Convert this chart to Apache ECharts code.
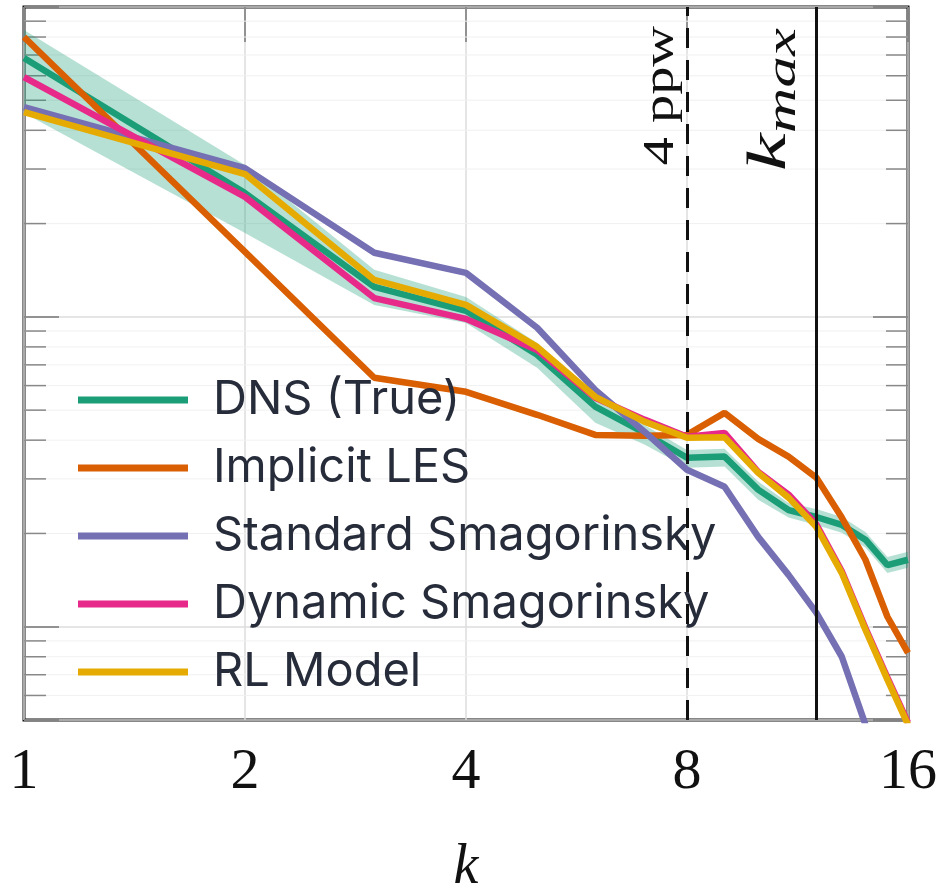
<!DOCTYPE html>
<html><head><meta charset="utf-8">
<script src="https://cdn.jsdelivr.net/npm/echarts@6/dist/echarts.min.js"></script>
<style>html,body{margin:0;padding:0;background:#fff}#c{width:946px;height:888px}</style>
</head><body><div id="c"></div>
<script>
// ---- data ----
const kValues = [1,2,3,4,5,6,7,8,9,10,11,12,13,14,15,16];
const xTickLabels = ['1','2','4','8','16'];
const dnsTrue  = [0.685,0.251,0.125,0.1046,0.0754,0.0513,0.0422,0.0351,0.0354,0.0277,0.0238,0.0226,0.0213,0.0191,0.0158,0.01645];
const dnsUpper = [0.843,0.309,0.142,0.116,0.0824,0.0561,0.0448,0.0372,0.0375,0.0294,0.0251,0.0240,0.0226,0.0202,0.0168,0.01746];
const dnsLower = [0.455,0.1866,0.1093,0.0956,0.0685,0.0455,0.0387,0.0326,0.0329,0.0257,0.0225,0.0213,0.0201,0.0180,0.0149,0.0155];
const implicitLES  = [0.80,0.162,0.0636,0.0573,0.0483,0.0416,0.0413,0.0416,0.049,0.0404,0.0354,0.0303,0.0225,0.01645,0.01077,0.00824];
const standardSmag = [0.475,0.302,0.161,0.1387,0.0922,0.0581,0.0426,0.0321,0.0283,0.0195,0.0147,0.0111,0.0080,0.00483,null,null];
const dynamicSmag  = [0.594,0.244,0.115,0.0985,0.0782,0.0548,0.0466,0.0410,0.0422,0.0316,0.0267,0.0214,0.0151,0.0099,0.00685,0.0049];
const rlModel      = [0.458,0.289,0.1316,0.1093,0.080,0.0552,0.0459,0.0407,0.0409,0.0314,0.0261,0.0210,0.0149,0.00978,0.00675,0.00483];
const seriesNames  = ['DNS (True)','Implicit LES','Standard Smagorinsky','Dynamic Smagorinsky','RL Model'];
const seriesColors = ['#1b9e77','#d95f02','#7570b3','#e7298a','#e6ab02'];
const ppwK = 8;
const kmaxK = 12;
const yMin = 0.005, yMax = 1;

// ---- chart ----
const chart = echarts.init(document.getElementById('c'));
const pair = arr => kValues.map((k, i) => [k, arr[i]]);

const minorVals = [];
for (let d = -3; d <= 0; d++) for (let m = 2; m <= 9; m++) {
  const v = m * Math.pow(10, d);
  if (v > yMin * 1.0001 && v < yMax * 0.9999) minorVals.push(v);
}

const seriesData = [dnsTrue, implicitLES, standardSmag, dynamicSmag, rlModel];

const series = [
  { // minor ticks + faint minor gridlines
    type: 'custom', silent: true, z: 1,
    data: minorVals.map(v => [1, v]),
    renderItem: (params, api) => {
      const v = api.value(1);
      const pL = api.coord([1, v]), pR = api.coord([16, v]);
      return { type: 'group', children: [
        { type: 'line', shape: { x1: pL[0], y1: pL[1], x2: pR[0], y2: pR[1] }, style: { stroke: '#f1f1f1', lineWidth: 1 } },
        { type: 'line', shape: { x1: pL[0], y1: pL[1], x2: pL[0] + 22, y2: pL[1] }, style: { stroke: '#888', lineWidth: 1.5 } },
        { type: 'line', shape: { x1: pR[0] - 22, y1: pR[1], x2: pR[0], y2: pR[1] }, style: { stroke: '#888', lineWidth: 1.5 } }
      ]};
    }
  },
  { // DNS uncertainty band
    type: 'custom', silent: true, z: 2,
    data: [[1, dnsTrue[0]]],
    renderItem: (params, api) => {
      const up = kValues.map((k, i) => api.coord([k, dnsUpper[i]]));
      const lo = kValues.map((k, i) => api.coord([k, dnsLower[i]])).reverse();
      return { type: 'polygon', shape: { points: up.concat(lo) }, style: { fill: 'rgba(27,158,119,0.32)' } };
    }
  }
];
seriesNames.forEach((name, i) => {
  series.push({
    name, type: 'line', data: pair(seriesData[i]), symbol: 'none', z: 3,
    color: seriesColors[i], lineStyle: { width: 6.5, color: seriesColors[i] },
    clip: true, connectNulls: false
  });
});
series.push({
  type: 'line', data: [], z: 5, silent: true,
  markLine: {
    symbol: 'none', silent: true, label: { show: false }, animation: false,
    data: [
      { xAxis: ppwK, lineStyle: { type: [20, 12], color: '#111', width: 3 } },
      { xAxis: kmaxK, lineStyle: { type: 'solid', color: '#111', width: 3 } }
    ]
  }
});

const xLog = {
  type: 'log', logBase: 2, min: 1, max: 16
};
const option = {
  animation: false,
  backgroundColor: '#fff',
  grid: { left: 24, right: 38, top: 7, bottom: 168, outerBoundsMode: 'none', containLabel: false,
    show: true, borderColor: '#111', borderWidth: 3, backgroundColor: 'transparent' },
  legend: {
    data: seriesNames, orient: 'vertical', left: 73, top: 371,
    icon: 'rect', itemWidth: 110, itemHeight: 7, itemGap: 20,
    textStyle: { fontFamily: 'Inter', fontSize: 47, color: '#272c3b', lineHeight: 48, padding: [0, 0, 0, 20] }
  },
  xAxis: [
    Object.assign({}, xLog, {
      position: 'bottom',
      axisLine: { show: false },
      axisTick: { show: false },
      axisLabel: { showMinLabel: true, showMaxLabel: true, fontFamily: 'Liberation Serif', fontSize: 58, color: '#111', margin: 24,
        formatter: v => xTickLabels[Math.round(Math.log2(v))] },
      splitLine: { show: true, lineStyle: { color: '#dcdcdc', width: 1.5 } },
      name: 'k', nameLocation: 'middle', nameGap: 120,
      nameTextStyle: { fontFamily: 'Liberation Serif', fontStyle: 'italic', fontSize: 56, color: '#111' }
    }),
    Object.assign({}, xLog, {
      position: 'top',
      axisLine: { show: false },
      axisTick: { show: true, inside: true, length: 35, lineStyle: { color: '#777', width: 1.5 } },
      axisLabel: { show: false }, splitLine: { show: false }
    })
  ],
  yAxis: [
    { type: 'log', logBase: 10, min: yMin, max: yMax, position: 'left',
      axisLine: { show: false }, axisLabel: { show: false },
      axisTick: { show: true, inside: true, length: 35, lineStyle: { color: '#777', width: 1.5 } },
      splitLine: { show: true, lineStyle: { color: '#dcdcdc', width: 1.5 } } },
    { type: 'log', logBase: 10, min: yMin, max: yMax, position: 'right',
      axisLine: { show: false }, axisLabel: { show: false },
      axisTick: { show: true, inside: true, length: 35, lineStyle: { color: '#777', width: 1.5 } },
      splitLine: { show: false } }
  ],
  series
};
chart.setOption(option);

// annotations placed through the axes' own scales
const x8 = chart.convertToPixel({ xAxisIndex: 0 }, ppwK);
const x12 = chart.convertToPixel({ xAxisIndex: 0 }, kmaxK);
const yTop = chart.convertToPixel({ yAxisIndex: 0 }, yMax);
chart.setOption({
  graphic: [
    { type: 'text', x: x8 - 4, y: yTop + 19, rotation: Math.PI / 2, scaleX: 1.28, z: 10,
      style: { text: '4 ppw', font: '44px "Liberation Serif"', fill: '#111', align: 'right', verticalAlign: 'bottom' } },
    { type: 'text', x: x12 - 12, y: yTop + 21, rotation: Math.PI / 2, scaleX: 1.58, z: 10,
      style: { text: '{k|k}{s|max}', align: 'right', verticalAlign: 'bottom', fill: '#111',
        rich: {
          k: { fontFamily: 'Liberation Serif', fontStyle: 'italic', fontSize: 54, fill: '#111' },
          s: { fontFamily: 'Liberation Serif', fontStyle: 'italic', fontSize: 40, fill: '#111', padding: [26, 0, 0, 0] }
        } } }
  ]
});
</script>
</body></html>
